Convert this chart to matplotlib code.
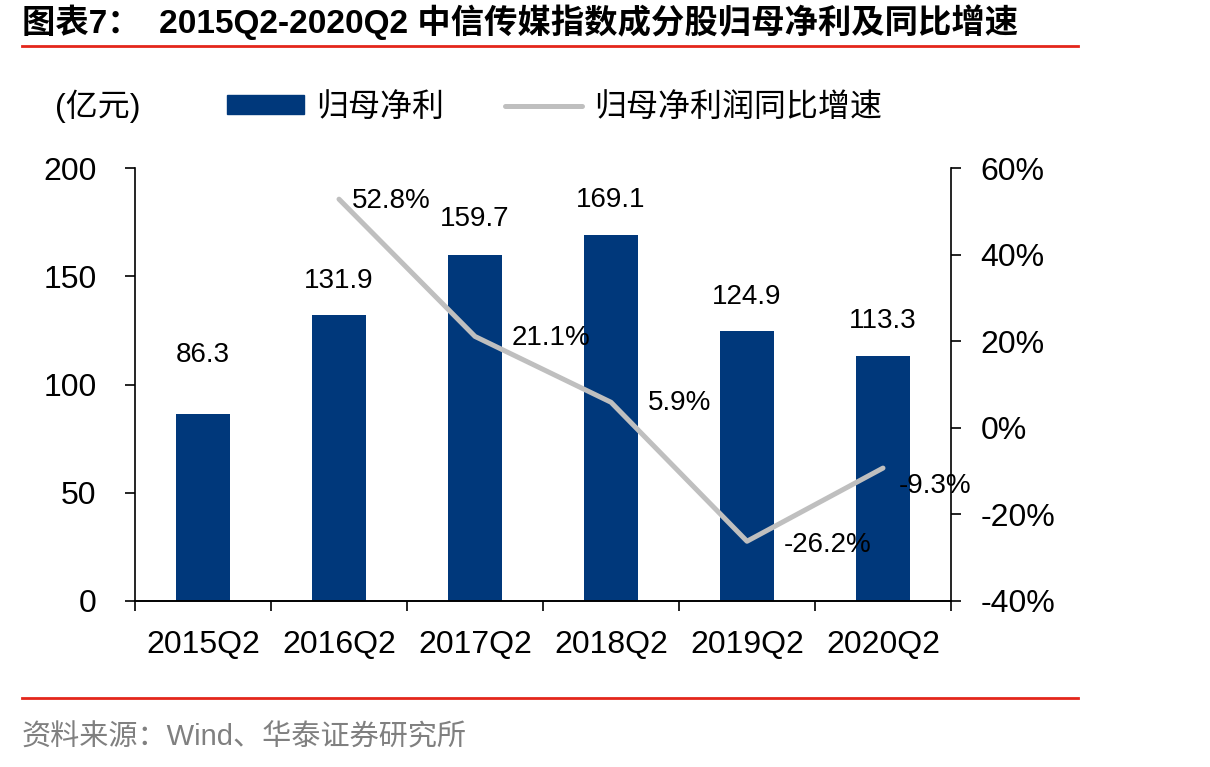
import numpy as np
import matplotlib.pyplot as plt
from matplotlib.lines import Line2D
from matplotlib.patches import Patch

plt.rcParams['font.family'] = ['Liberation Sans', 'Noto Sans CJK SC', 'DejaVu Sans']

# 数据
quarters = ['2015Q2', '2016Q2', '2017Q2', '2018Q2', '2019Q2', '2020Q2']
profit = [86.3, 131.9, 159.7, 169.1, 124.9, 113.3]          # 归母净利（亿元）
growth = [52.8, 21.1, 5.9, -26.2, -9.3]                      # 同比增速（%），从2016Q2开始

# 标签偏移（像素）
bar_label_dy = [59, 34, 36, 35, 34, 35]
growth_label_off = [(13, -2), (37, -2), (37, -1), (37, -4), (16, -18)]

navy = '#00387B'
gray = '#BFBFBF'
red = '#E4261B'

fig = plt.figure(figsize=(12.1, 7.67), dpi=100)
ax = fig.add_axes([135 / 1210, 1 - 601 / 767, 816 / 1210, 433 / 767])

x = np.arange(len(quarters))
ax.bar(x, profit, width=0.4, color=navy, zorder=2)
ax.set_xlim(-0.5, len(quarters) - 0.5)
ax.set_ylim(0, 200)
ax.set_yticks([0, 50, 100, 150, 200])

ax2 = ax.twinx()
ax2.plot(x[1:], growth, color=gray, lw=3.6, solid_capstyle='round', solid_joinstyle='round')
ax2.set_ylim(-40, 60)
ax2.set_yticks([-40, -20, 0, 20, 40, 60])
ax2.set_yticklabels([f'{v}%' for v in [-40, -20, 0, 20, 40, 60]])

for a in (ax, ax2):
    a.spines['top'].set_visible(False)
    for s in a.spines.values():
        s.set_linewidth(1.2)
ax.spines['right'].set_visible(False)
ax2.spines['left'].set_visible(False)

# x轴：刻度线在类别之间
ax.set_xticks(x)
ax.set_xticklabels(quarters)
ax.set_xticks(np.arange(-0.5, len(quarters)), minor=True)
ax.tick_params(axis='x', which='major', length=0, pad=21, labelsize=23)
ax.tick_params(axis='x', which='minor', length=7.2, width=1.2, direction='out')
ax.tick_params(axis='y', length=7.2, width=1.2, direction='out', pad=20.5, labelsize=23)
ax2.tick_params(axis='y', length=7.2, width=1.2, direction='out', pad=14, labelsize=23)

# 数据标签
for i, v in enumerate(profit):
    ax.annotate(f'{v}', (x[i], v), xytext=(0, bar_label_dy[i]), textcoords='offset pixels',
                ha='center', va='center', fontsize=20)
for i, v in enumerate(growth):
    ax2.annotate(f'{v}%', (x[i + 1], v), xytext=growth_label_off[i], textcoords='offset pixels',
                 ha='left', va='center', fontsize=20)

# 图例
handles = [Patch(color=navy), Line2D([], [], color=gray, lw=3.6, solid_capstyle='round')]
fig.legend(handles, ['归母净利', '归母净利润同比增速'], loc='center left',
           bbox_to_anchor=(227 / 1210, 1 - 108 / 767), ncol=2, frameon=False, fontsize=23,
           handlelength=2.4, handleheight=0.55, handletextpad=0.4, columnspacing=1.9,
           borderpad=0, borderaxespad=0)
fig.text(55 / 1210, 1 - 106 / 767, '(亿元)', fontsize=23, va='center')

# 标题与来源
fig.text(22 / 1210, 1 - 22 / 767, '图表7：  2015Q2-2020Q2 中信传媒指数成分股归母净利及同比增速',
         fontsize=24, fontweight='bold', va='center')
fig.add_artist(Line2D([22 / 1210, 1078 / 1210], [1 - 46 / 767] * 2, color=red, lw=2))
fig.add_artist(Line2D([22 / 1210, 1078 / 1210], [1 - 698 / 767] * 2, color=red, lw=2))
fig.text(22 / 1210, 1 - 738 / 767, '资料来源：Wind、华泰证券研究所', fontsize=21,
         color='#808080', va='center')

fig.savefig('out.png', dpi=100)
